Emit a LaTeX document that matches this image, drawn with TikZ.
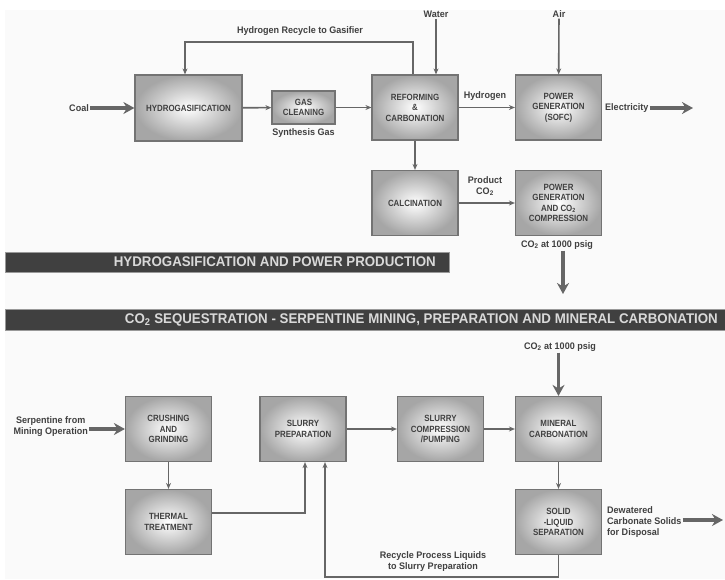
\documentclass[tikz,border=0pt]{standalone}
\usepackage{fontspec}
\usepackage{tikz}
\usetikzlibrary{arrows.meta, positioning}
\newfontfamily\condfont[FakeStretch=0.88]{Liberation Sans}
\newfontfamily\tagfont[FakeStretch=0.95]{Liberation Sans}

\tikzset{
  unit/.style={draw=black!55, line width=1.2pt, inner color=white, outer color=black!35,
    minimum width=86pt, minimum height=65pt, align=center, text=black!75,
    font=\condfont\bfseries\fontsize{9}{10.5}\selectfont},
  tag/.style={align=center, text=black!75, inner sep=1pt,
    font=\tagfont\bfseries\fontsize{9.5}{11}\selectfont},
  pipe/.style={draw=black!60, line width=1.6pt, -{Stealth[length=6pt,width=5pt]}},
  feed/.style={draw=black!60, line width=3.5pt, -{Stealth[length=11pt,width=12pt]}},
  banner/.style={fill=black!75, draw=black!40, line width=1pt},
  bannertext/.style={text=white!85!black, inner sep=0pt,
    font=\tagfont\bfseries\fontsize{14}{14}\selectfont}
}

\begin{document}
\begin{tikzpicture}[x=1pt, y=-1pt]
\useasboundingbox (0,0) rectangle (725,579);
\fill[black!2] (5,10) rectangle (725,579);

% hydrogasification and power production
\node (hydro) at (188.5,108) [unit, minimum width=107pt, minimum height=66pt] {HYDROGASIFICATION};
\node (clean) at (303.5,107.5) [unit, minimum width=63pt, minimum height=33pt] {GAS\\CLEANING};
\node (reform) at (415,107.5) [unit] {REFORMING\\\&\\CARBONATION};
\node (sofc) at (558.5,107.5) [unit] {POWER\\GENERATION\\(SOFC)};
\node (calc) at (415,203) [unit] {CALCINATION};
\node (comp) at (558.5,203) [unit] {POWER\\GENERATION\\AND CO\textsubscript{2}\\COMPRESSION};

\node (coal) at (90,108) [tag, anchor=east] {Coal};
\node (synlbl) [tag, below=3pt of clean] {Synthesis Gas};
\node (reclbl) at (300,31) [tag] {Hydrogen Recycle to Gasifier};
\node (water) at (436,14) [tag] {Water};
\node (air) at (559,14) [tag] {Air};
\node (h2lbl) at (485,96) [tag] {Hydrogen};
\node (elec) at (604,108) [tag, anchor=west] {Electricity};
\node (prodlbl) at (485,186) [tag] {Product\\CO\textsubscript{2}};
\node (co2top) at (557,245) [tag] {CO\textsubscript{2} at 1000 psig};
\coordinate (elecend) at (693,108);
\coordinate (co2down) at (563,294);

\draw[feed] (coal) -- (hydro);
\draw[pipe] (hydro) -- (clean);
\draw[pipe] (clean) -- (reform);
\draw[pipe] ([xshift=-2pt]reform.north) |- (185,42) -- ([xshift=-3.5pt]hydro.north);
\draw[pipe] (water.south -| 436,0) -- ([xshift=21pt]reform.north);
\draw[pipe] (air) -- (sofc);
\draw[pipe] (reform) -- (sofc);
\draw[feed] (elec) -- (elecend);
\draw[pipe] (reform) -- (calc);
\draw[pipe] (calc) -- (comp);
\draw[feed] (co2top.south -| co2down) -- (co2down);

% banners
\draw[banner] (5,252) rectangle (449,272);
\node (bar1) at (436,262) [bannertext, anchor=east] {HYDROGASIFICATION AND POWER PRODUCTION};
\draw[banner] (5,309) rectangle (725,330);
\node (bar2) at (718,319.5) [bannertext, anchor=east] {CO\textsubscript{2} SEQUESTRATION - SERPENTINE MINING, PREPARATION AND MINERAL CARBONATION};

% serpentine mining, preparation and mineral carbonation
\node (crush) at (168.5,429) [unit] {CRUSHING\\AND\\GRINDING};
\node (thermal) at (168.5,522) [unit] {THERMAL\\TREATMENT};
\node (slurry) at (303,429) [unit] {SLURRY\\PREPARATION};
\node (pump) at (440.5,429) [unit] {SLURRY\\COMPRESSION\\/PUMPING};
\node (mineral) at (558.5,429) [unit] {MINERAL\\CARBONATION};
\node (solid) at (558.5,522) [unit] {SOLID\\-LIQUID\\SEPARATION};

\node (serp) at (89,427) [tag, anchor=east] {Serpentine from\\Mining Operation};
\node (co2bot) at (560,347) [tag] {CO\textsubscript{2} at 1000 psig};
\node (dry) at (606,522) [tag, anchor=west, align=left] {Dewatered\\Carbonate Solids\\for Disposal};
\node (cyclbl) at (433,562) [tag] {Recycle Process Liquids\\to Slurry Preparation};
\coordinate (dryend) at (723,520);

\draw[feed] (serp.east |- crush) -- (crush);
\draw[pipe] (crush) -- (thermal);
\draw[pipe] ([yshift=9pt]thermal.east) -| ([xshift=2pt]slurry.south);
\draw[pipe] (slurry) -- (pump);
\draw[pipe] (pump) -- (mineral);
\draw[feed] (co2bot.south -| mineral) -- (mineral);
\draw[pipe] (mineral) -- (solid);
\draw[pipe] (solid.south) -- ++(0,22) -| ([xshift=22pt]slurry.south);
\draw[feed] (dry.east |- dryend) -- (dryend);
\end{tikzpicture}
\end{document}
